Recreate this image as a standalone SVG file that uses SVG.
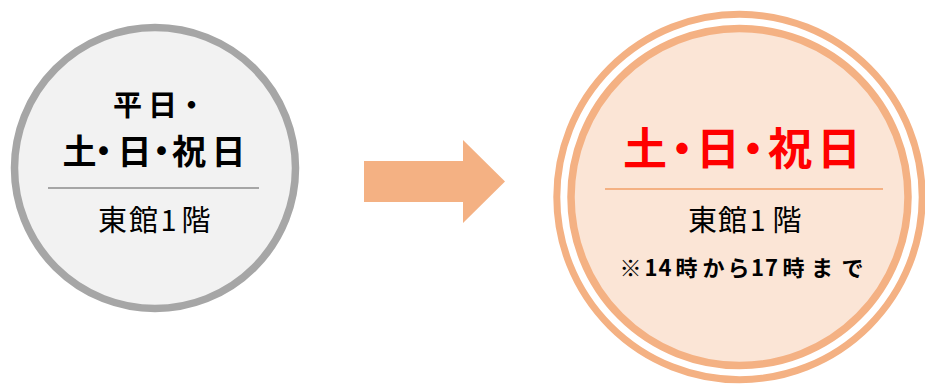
<svg xmlns="http://www.w3.org/2000/svg" width="925" height="388" viewBox="0 0 925 388">
<style>
.t{font-family:"Noto Sans CJK JP","Noto Sans",sans-serif;text-anchor:middle}
.b{font-weight:bold}
.n{font-weight:normal}
</style>
<rect width="925" height="388" fill="#ffffff"/>
<g id="node-before">
<circle cx="155" cy="168" r="140.5" fill="#f2f2f2" stroke="#a6a6a6" stroke-width="7.5"/>
<text class="t b" x="127.5 162.5 191.5" y="116" font-size="29" fill="#000000">平日・</text>
<text class="t b" x="79.5 103.5 134.5 161.5 189 228.5" y="164" font-size="34" fill="#000000">土・日・祝日</text>
<line x1="48" y1="188" x2="259" y2="188" stroke="#a6a6a6" stroke-width="2"/>
<text class="t n" x="112.5 143.5 168.5 196" y="231" font-size="29" fill="#000000">東館1階</text>
</g>
<g id="connectors">
<polygon points="364,161 463,161 463,140 505,181.5 463,223 463,202 364,202" fill="#f4b183"/>
</g>
<g id="node-after">
<circle cx="739.5" cy="197" r="182.7" fill="none" stroke="#f4b183" stroke-width="7"/>
<circle cx="739.5" cy="197" r="168.5" fill="#fbe5d6" stroke="#f4b183" stroke-width="7.5"/>
<text class="t b" x="645 682 718 753 790 839" y="165" font-size="44" fill="#ff0000">土・日・祝日</text>
<line x1="605" y1="189" x2="883" y2="189" stroke="#f4b183" stroke-width="2"/>
<text class="t n" x="702.5 732.5 757.5 787" y="231" font-size="29" fill="#000000">東館1階</text>
<text class="t b" x="630.5 651 665 686.5 713.5 738.5 757.5 771.5 793.5 822 852.5" y="276" font-size="22" fill="#000000">※14時から17時まで</text>
</g>
</svg>
